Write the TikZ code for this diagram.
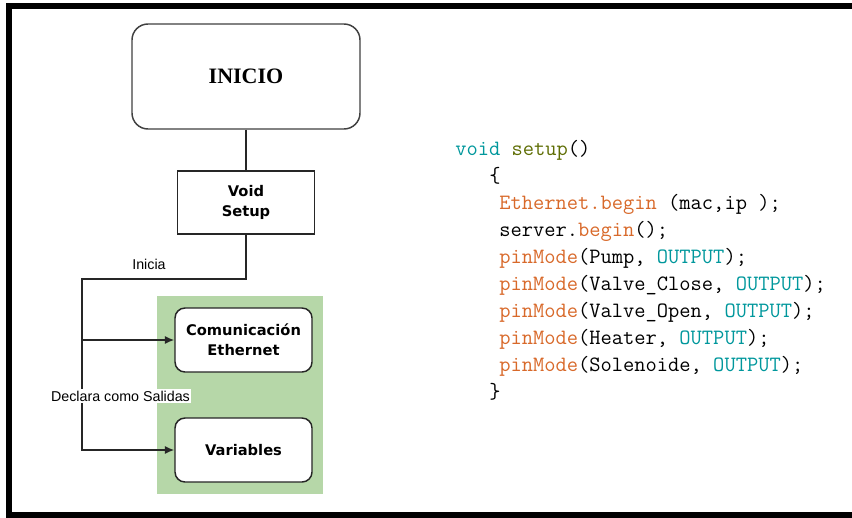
\documentclass[tikz,border=0pt]{standalone}
\usepackage{fontspec}
\setmainfont{Liberation Serif}
\newfontfamily\boxfont{DejaVu Sans}
\newfontfamily\labelfont{Liberation Sans}
\usetikzlibrary{arrows.meta}
\definecolor{kwteal}{HTML}{00979C}
\definecolor{kwolive}{HTML}{5E6D03}
\definecolor{kworange}{HTML}{D8692A}
\definecolor{panelgreen}{HTML}{B6D7A8}
\newcommand{\kwT}[1]{\textcolor{kwteal}{#1}}
\newcommand{\kwO}[1]{\textcolor{kworange}{#1}}
\newcommand{\kwL}[1]{\textcolor{kwolive}{#1}}

\begin{document}
\begin{tikzpicture}[x=0.75pt,y=-0.75pt,
  boxtext/.style={font=\boxfont\bfseries\fontsize{11}{15}\selectfont, align=center, inner sep=0pt},
  startbox/.style={draw=black!75, line width=1.1pt, rounded corners=12pt, fill=white,
    minimum width=171pt, minimum height=78.75pt, inner sep=0pt,
    font=\bfseries\fontsize{16.5}{18}\selectfont},
  setupbox/.style={boxtext, draw=black!85, line width=1.1pt, fill=white,
    minimum width=102.75pt, minimum height=47.25pt},
  taskbox/.style={boxtext, draw=black!85, line width=1.1pt, rounded corners=7.5pt, fill=white,
    minimum width=102.75pt, minimum height=48pt},
  panel/.style={fill=panelgreen, draw=none, minimum width=124.5pt, minimum height=148.5pt, inner sep=0pt},
  flow/.style={draw=black!85, line width=1.1pt},
  flowarrow/.style={flow, -{Latex[length=7pt,width=6pt]}},
  flowlabel/.style={font=\labelfont\fontsize{10.7}{12}\selectfont, inner sep=1pt},
  code/.style={font=\ttfamily\fontsize{16.4}{18}\selectfont, inner sep=0pt, anchor=base west},
]
\useasboundingbox (0,0) rectangle (852,517);

% outer frame (open on the right)
\draw[line width=4.6pt, line join=miter] (852,6.3) -- (9,6.3) -- (9,515) -- (852,515);

% flow chart
\node[startbox] (inicio) at (246,76.5) {INICIO};
\node[setupbox] (setup) at (246,202.5) {Void\\Setup};
\node[panel] (grupo) at (240,395) {};
\node[taskbox] (com) at (243.5,340) {Comunicación\\Ethernet};
\node[taskbox] (var) at (243.5,450) {Variables};

\coordinate (rama) at (82,279);

\draw[flow] (inicio.south) -- (setup.north);
\draw[flowarrow] (setup.south) |- (rama) |- (var.west);
\draw[flowarrow] (rama |- com.west) -- (com.west);

\node[flowlabel] (lblinicia) at (149,264) {Inicia};
\node[flowlabel, fill=white] (lbldeclara) at (120.5,396) {Declara como Salidas};

% Arduino setup() listing
\node[code] (c1) at (455,155) {\kwT{void} \kwL{setup}()};
\node[code] (c2) at (489,182) {\{};
\node[code] (c3) at (499,209) {\kwO{Ethernet.begin} (mac,ip );};
\node[code] (c4) at (499,236) {server.\kwO{begin}();};
\node[code] (c5) at (499,263) {\kwO{pinMode}(Pump, \kwT{OUTPUT});};
\node[code] (c6) at (499,290) {\kwO{pinMode}(Valve\_Close, \kwT{OUTPUT});};
\node[code] (c7) at (499,317) {\kwO{pinMode}(Valve\_Open, \kwT{OUTPUT});};
\node[code] (c8) at (499,344) {\kwO{pinMode}(Heater, \kwT{OUTPUT});};
\node[code] (c9) at (499,371) {\kwO{pinMode}(Solenoide, \kwT{OUTPUT});};
\node[code] (c10) at (489,398) {\}};
\end{tikzpicture}
\end{document}
